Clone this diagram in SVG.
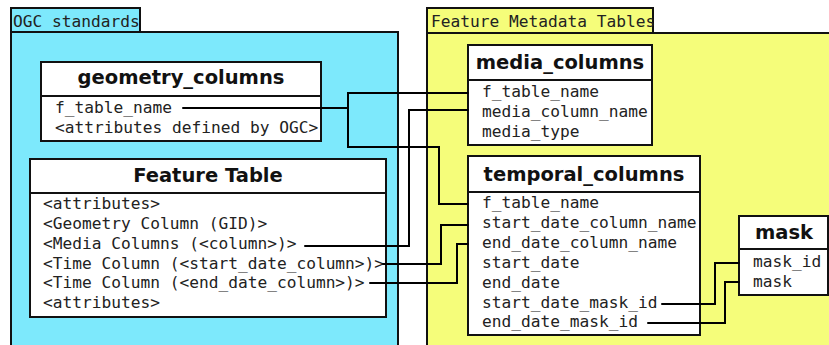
<svg xmlns="http://www.w3.org/2000/svg" width="829" height="345" viewBox="0 0 829 345">
  <style>
    .pkg-ogc { fill: #7de9fc; stroke: #111; stroke-width: 2; }
    .pkg-meta { fill: #f5fd7a; stroke: #111; stroke-width: 2; }
    .box { fill: #fff; stroke: #111; stroke-width: 2; }
    .sep { stroke: #111; stroke-width: 2; }
    .title { font-family: "DejaVu Sans", "Liberation Sans", sans-serif; font-weight: bold; font-size: 19.5px; fill: #111; text-anchor: middle; }
    .row { font-family: "DejaVu Sans Mono", "Liberation Mono", monospace; font-size: 16.2px; fill: #222; }
    .link { fill: none; stroke: #000; stroke-width: 2; stroke-linecap: round; stroke-linejoin: miter; }
  </style>

  <!-- packages -->
  <g id="pkg-ogc">
    <rect class="pkg-ogc" x="11" y="32" width="387" height="330"/>
    <rect class="pkg-ogc" x="11" y="8" width="129" height="24"/>
    <text class="row" x="13" y="27">OGC standards</text>
  </g>
  <g id="pkg-meta">
    <rect class="pkg-meta" x="427" y="33" width="420" height="330"/>
    <rect class="pkg-meta" x="427" y="8" width="226" height="25"/>
    <text class="row" x="431" y="27">Feature Metadata Tables</text>
  </g>

  <!-- tables -->
  <g id="geometry_columns">
    <rect class="box" x="41" y="62" width="280" height="79"/>
    <line class="sep" x1="41" y1="96" x2="321" y2="96"/>
    <text class="title" x="181" y="84">geometry_columns</text>
    <text class="row" x="55" y="113">f_table_name</text>
    <text class="row" x="55" y="133">&lt;attributes defined by OGC&gt;</text>
  </g>

  <g id="feature_table">
    <rect class="box" x="30" y="159" width="356" height="158"/>
    <line class="sep" x1="30" y1="193" x2="386" y2="193"/>
    <text class="title" x="208" y="182">Feature Table</text>
    <text class="row" x="43" y="209">&lt;attributes&gt;</text>
    <text class="row" x="43" y="229">&lt;Geometry Column (GID)&gt;</text>
    <text class="row" x="43" y="249">&lt;Media Columns (&lt;column&gt;)&gt;</text>
    <text class="row" x="43" y="269">&lt;Time Column (&lt;start_date_column&gt;)&gt;</text>
    <text class="row" x="43" y="288">&lt;Time Column (&lt;end_date_column&gt;)&gt;</text>
    <text class="row" x="43" y="308">&lt;attributes&gt;</text>
  </g>

  <g id="media_columns">
    <rect class="box" x="468" y="45" width="184" height="100"/>
    <line class="sep" x1="468" y1="80" x2="652" y2="80"/>
    <text class="title" x="560" y="69">media_columns</text>
    <text class="row" x="482" y="97">f_table_name</text>
    <text class="row" x="482" y="117">media_column_name</text>
    <text class="row" x="482" y="137">media_type</text>
  </g>

  <g id="temporal_columns">
    <rect class="box" x="468" y="156" width="232" height="179"/>
    <line class="sep" x1="468" y1="192" x2="700" y2="192"/>
    <text class="title" x="584" y="181">temporal_columns</text>
    <text class="row" x="482" y="208">f_table_name</text>
    <text class="row" x="482" y="228">start_date_column_name</text>
    <text class="row" x="482" y="248">end_date_column_name</text>
    <text class="row" x="482" y="268">start_date</text>
    <text class="row" x="482" y="288">end_date</text>
    <text class="row" x="482" y="308">start_date_mask_id</text>
    <text class="row" x="482" y="327">end_date_mask_id</text>
  </g>

  <g id="mask">
    <rect class="box" x="739" y="216" width="89" height="79"/>
    <line class="sep" x1="739" y1="249" x2="828" y2="249"/>
    <text class="title" x="784" y="239">mask</text>
    <text class="row" x="753" y="267">mask_id</text>
    <text class="row" x="753" y="287">mask</text>
  </g>

  <!-- key relations -->
  <g id="connectors">
    <polyline class="link" points="183,108 348,108 348,93 468,93"/>
    <polyline class="link" points="348,108 348,147 439,147 439,204 468,204"/>
    <polyline class="link" points="305,246 409,246 409,110 468,110"/>
    <polyline class="link" points="383,264 441,264 441,225 468,225"/>
    <polyline class="link" points="370,283 457,283 457,244 468,244"/>
    <polyline class="link" points="662,304 715,304 715,263 739,263"/>
    <polyline class="link" points="648,323 725,323 725,282 739,282"/>
  </g>
</svg>
